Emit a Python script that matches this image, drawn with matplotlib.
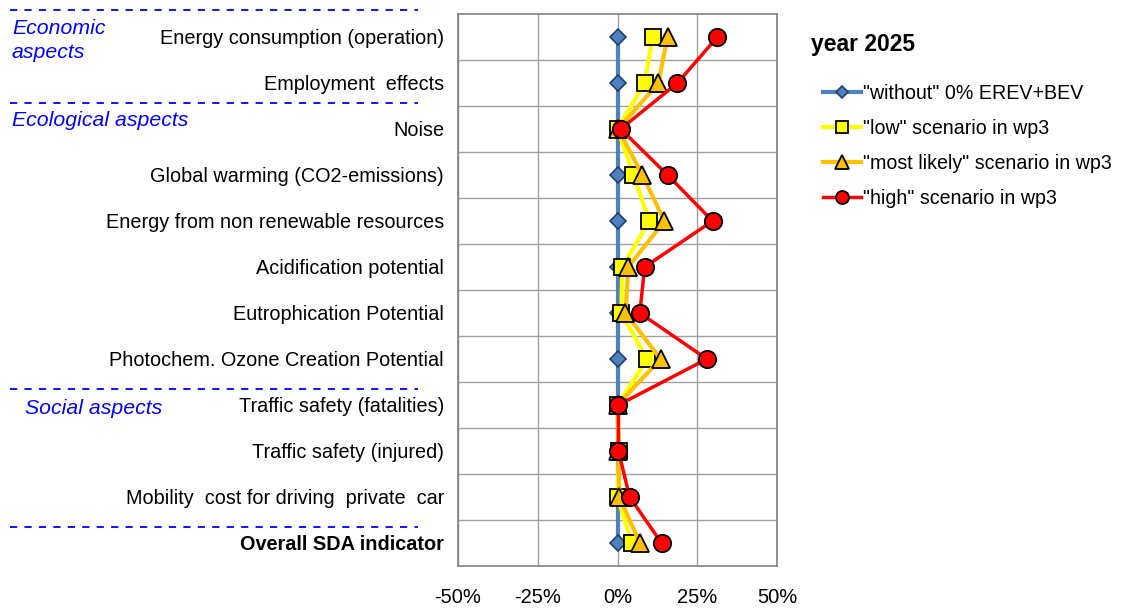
import matplotlib
matplotlib.use('Agg')
import matplotlib.pyplot as plt
from matplotlib.lines import Line2D
from matplotlib.ticker import FuncFormatter

plt.rcParams['font.family'] = ['Liberation Sans', 'DejaVu Sans']

categories = [
    'Energy consumption (operation)',
    'Employment  effects',
    'Noise',
    'Global warming (CO2-emissions)',
    'Energy from non renewable resources',
    'Acidification potential',
    'Eutrophication Potential',
    'Photochem. Ozone Creation Potential',
    'Traffic safety (fatalities)',
    'Traffic safety (injured)',
    'Mobility  cost for driving  private  car',
    'Overall SDA indicator',
]

without_vals = [0, 0, 0, 0, 0, 0, 0, 0, 0, 0, 0, 0]
low_vals = [11.0, 8.5, 0.0, 5.0, 10.0, 1.5, 1.2, 9.3, 0.0, 0.5, 0.0, 4.5]
likely_vals = [15.7, 12.8, 0.2, 7.8, 14.7, 3.4, 2.5, 13.5, 0.0, 0.3, 0.6, 7.0]
high_vals = [31.3, 18.8, 1.0, 15.7, 29.8, 8.5, 7.0, 28.0, 0.3, 0.3, 3.8, 13.8]

series_labels = ['"without" 0% EREV+BEV', '"low" scenario in wp3',
                 '"most likely" scenario in wp3', '"high" scenario in wp3']

x_ticks = [-50, -25, 0, 25, 50]

W, H = 1124, 608
fig = plt.figure(figsize=(W / 100, H / 100), dpi=100)
ax = fig.add_axes([458 / W, 1 - 566 / H, (777 - 458) / W, (566 - 14) / H])

y = list(range(len(categories)))

ax.plot(without_vals, y, color='#4F81BD', lw=3, marker='D', ms=8,
        mfc='#4F81BD', mec='#1F3F6F', mew=1.2, label=series_labels[0], zorder=3)
ax.plot(low_vals, y, color='#FFFF00', lw=3, marker='s', ms=12,
        mfc='#FFFF00', mec='black', mew=1.3, label=series_labels[1], zorder=4)
ax.plot(likely_vals, y, color='#FFC000', lw=3, marker='^', ms=13,
        mfc='#FFC000', mec='black', mew=1.3, label=series_labels[2], zorder=5)
ax.plot(high_vals, y, color='#FF0000', lw=2.5, marker='o', ms=12.5,
        mfc='#FF0000', mec='black', mew=1.3, label=series_labels[3], zorder=6)

ax.set_xlim(-50, 50)
ax.set_ylim(len(categories) - 0.5, -0.5)
ax.set_xticks(x_ticks)
ax.xaxis.set_major_formatter(FuncFormatter(lambda v, p: f'{v:.0f}%'))
ax.set_yticks(y)
ax.set_yticklabels(categories)
for lab in ax.get_yticklabels():
    if lab.get_text() == 'Overall SDA indicator':
        lab.set_fontweight('bold')
ax.set_yticks([i + 0.5 for i in range(len(categories) - 1)], minor=True)
ax.tick_params(axis='y', which='major', length=0, pad=10, labelsize=14.3)
ax.tick_params(axis='y', which='minor', length=0)
ax.tick_params(axis='x', length=0, pad=16, labelsize=14.5)
ax.grid(True, axis='x', which='major', color='#A0A0A0', lw=1)
ax.grid(True, axis='y', which='minor', color='#A0A0A0', lw=1)
ax.set_axisbelow(True)
for sp in ax.spines.values():
    sp.set_color('#808080')
    sp.set_linewidth(1.2)

# group separators and labels
for yy in [10, 103, 389, 527]:
    fig.add_artist(Line2D([10 / W, 418 / W], [1 - yy / H, 1 - yy / H],
                          color='#0000FF', lw=1.3, ls=(0, (4, 4))))
grp = dict(color='#0000FF', style='italic', fontsize=15.3, va='center', ha='left')
fig.text(12 / W, 1 - 28 / H, 'Economic', **grp)
fig.text(12 / W, 1 - 52 / H, 'aspects', **grp)
fig.text(12 / W, 1 - 120 / H, 'Ecological aspects', **grp)
fig.text(25 / W, 1 - 408 / H, 'Social aspects', **grp)

fig.text(811 / W, 1 - 45 / H, 'year 2025', fontsize=16.5, fontweight='bold',
         va='center', ha='left')
fig.legend(loc='upper left', bbox_to_anchor=(823 / W, 1 - 84 / H),
           frameon=False, fontsize=14.1, handlelength=1.95, handletextpad=0.1,
           labelspacing=0.82, borderaxespad=0, borderpad=0, markerscale=0.75)

fig.savefig('out.png', dpi=100)
